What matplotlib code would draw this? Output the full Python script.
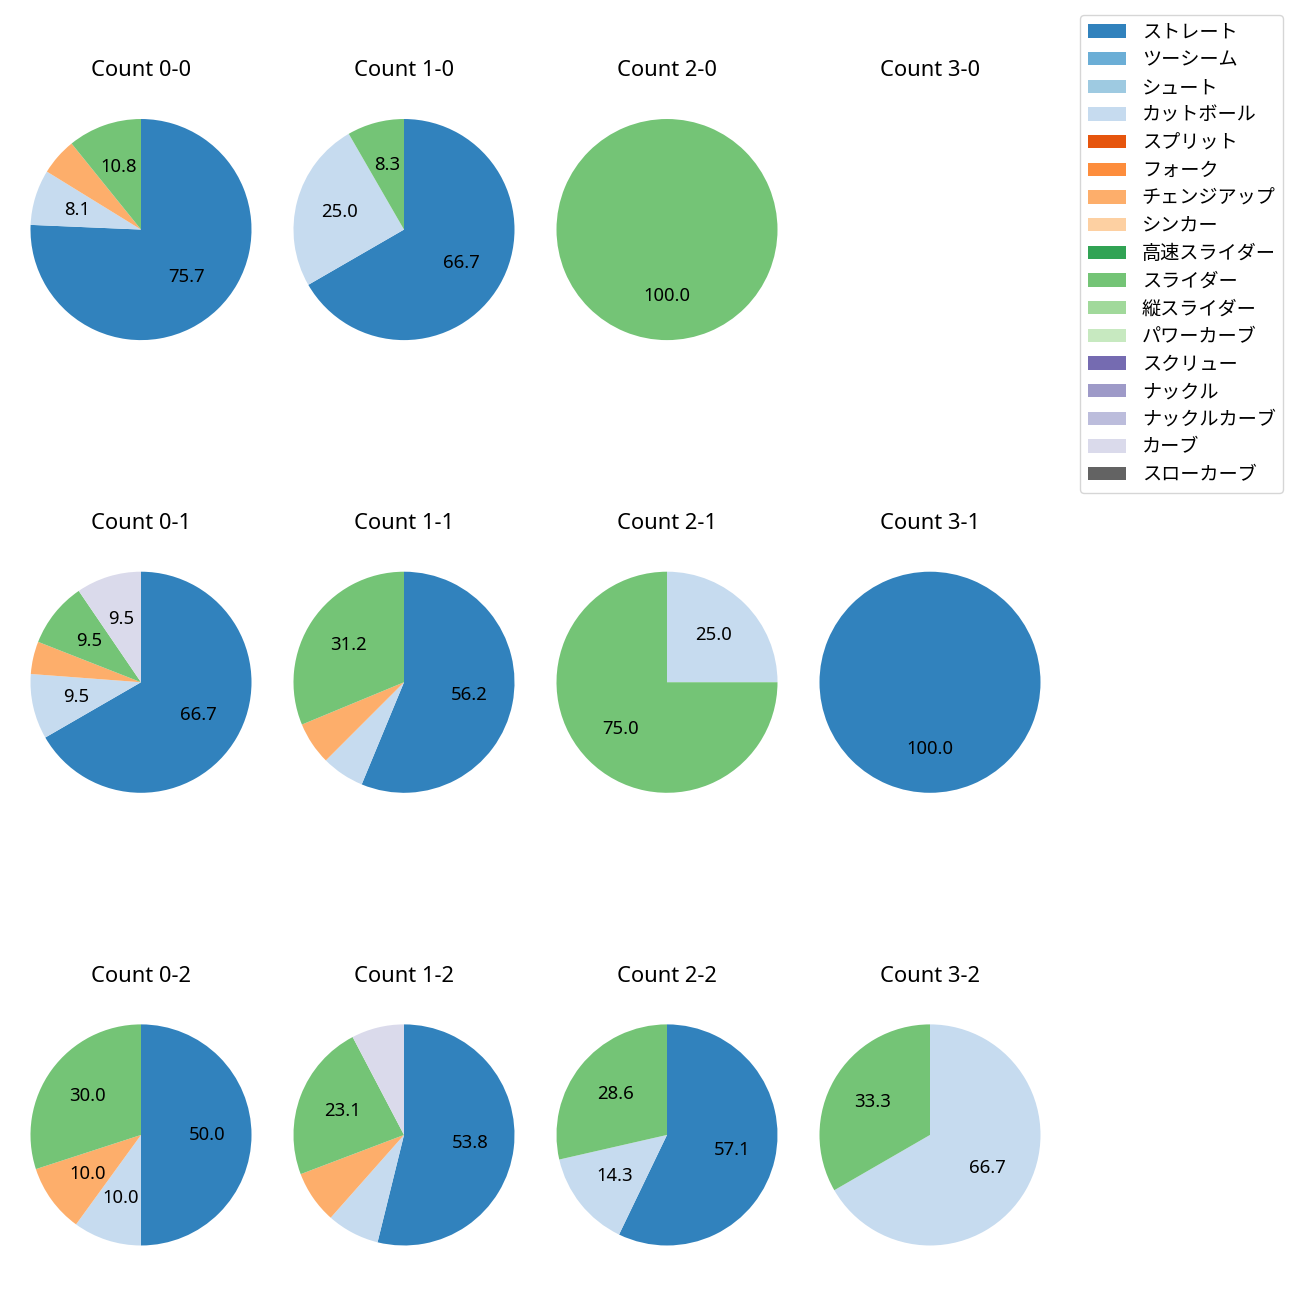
"""Pitch-type mix by ball-strike count, drawn as a grid of pie charts."""

from __future__ import annotations

import matplotlib

matplotlib.use("Agg")

import matplotlib.pyplot as plt
from matplotlib.patches import Patch

plt.rcParams["font.family"] = ["Noto Sans", "Noto Sans CJK JP", "DejaVu Sans"]

PITCH_TYPES = [
    "ストレート", "ツーシーム", "シュート", "カットボール", "スプリット", "フォーク",
    "チェンジアップ", "シンカー", "高速スライダー", "スライダー", "縦スライダー",
    "パワーカーブ", "スクリュー", "ナックル", "ナックルカーブ", "カーブ", "スローカーブ",
]

COUNT_LABELS = [
    "0-0", "1-0", "2-0", "3-0",
    "0-1", "1-1", "2-1", "3-1",
    "0-2", "1-2", "2-2", "3-2",
]

# pitches thrown per count, in PITCH_TYPES order:
# ストレート, カットボール, チェンジアップ, スライダー, カーブ (others are zero)
STRAIGHT = [28, 8, 0, 0, 14, 9, 0, 1, 5, 7, 4, 0]
CUTTER = [3, 3, 0, 0, 2, 1, 1, 0, 1, 1, 1, 2]
CHANGEUP = [2, 0, 0, 0, 1, 1, 0, 0, 1, 1, 0, 0]
SLIDER = [4, 1, 1, 0, 2, 5, 3, 0, 3, 3, 2, 1]
CURVE = [0, 0, 0, 0, 2, 0, 0, 0, 0, 1, 0, 0]

SERIES = {
    "ストレート": STRAIGHT,
    "カットボール": CUTTER,
    "チェンジアップ": CHANGEUP,
    "スライダー": SLIDER,
    "カーブ": CURVE,
}

FONT_SIZE = 13.3
LEGEND_SIZE = 13.8
TITLE_SIZE = 15.8
FIG_PX = 1300
PIE_RADIUS_PX = 110.5


def _autopct(pct: float) -> str:
    return f"{pct:.1f}" if pct >= 8 else ""


def draw_count_pie(axis, index: int, colors: list) -> None:
    """Draw one count's pie (or leave it blank when no pitches)."""
    values, wedge_colors = [], []
    for type_idx, name in enumerate(PITCH_TYPES):
        series = SERIES.get(name)
        if series is None or series[index] == 0:
            continue
        values.append(series[index])
        wedge_colors.append(colors[type_idx])

    if values:
        axis.pie(
            values,
            colors=wedge_colors,
            startangle=90,
            counterclock=False,
            autopct=_autopct,
            textprops={"fontsize": FONT_SIZE},
        )
    axis.set_aspect("auto")
    axis.set_xlim(-131.5 / PIE_RADIUS_PX, 131.5 / PIE_RADIUS_PX)
    axis.set_ylim(-145.0 / PIE_RADIUS_PX, 145.0 / PIE_RADIUS_PX)
    axis.set_xticks([])
    axis.set_yticks([])
    axis.set_frame_on(False)
    axis.set_title(f"Count {COUNT_LABELS[index]}", fontsize=TITLE_SIZE)


def main() -> None:
    cmap = plt.get_cmap("tab20c")
    colors = [cmap(i) for i in range(len(PITCH_TYPES))]

    fig, axes = plt.subplots(3, 4, figsize=(13, 13), dpi=100)
    fig.subplots_adjust(
        left=9.5 / FIG_PX,
        right=1061.5 / FIG_PX,
        top=1 - 84.5 / FIG_PX,
        bottom=1 - 1280.0 / FIG_PX,
        wspace=0.0,
        hspace=162.5 / 290.0,
    )

    for index, axis in enumerate(axes.flat):
        draw_count_pie(axis, index, colors)

    handles = [Patch(facecolor=c) for c in colors]
    fig.legend(
        handles,
        PITCH_TYPES,
        loc="upper right",
        bbox_to_anchor=(1283.3 / FIG_PX, 1 - 15.0 / FIG_PX),
        borderaxespad=0.0,
        fontsize=LEGEND_SIZE,
        labelspacing=0.40,
    )
    fig.savefig("out.png")
    plt.close(fig)


if __name__ == "__main__":
    main()
